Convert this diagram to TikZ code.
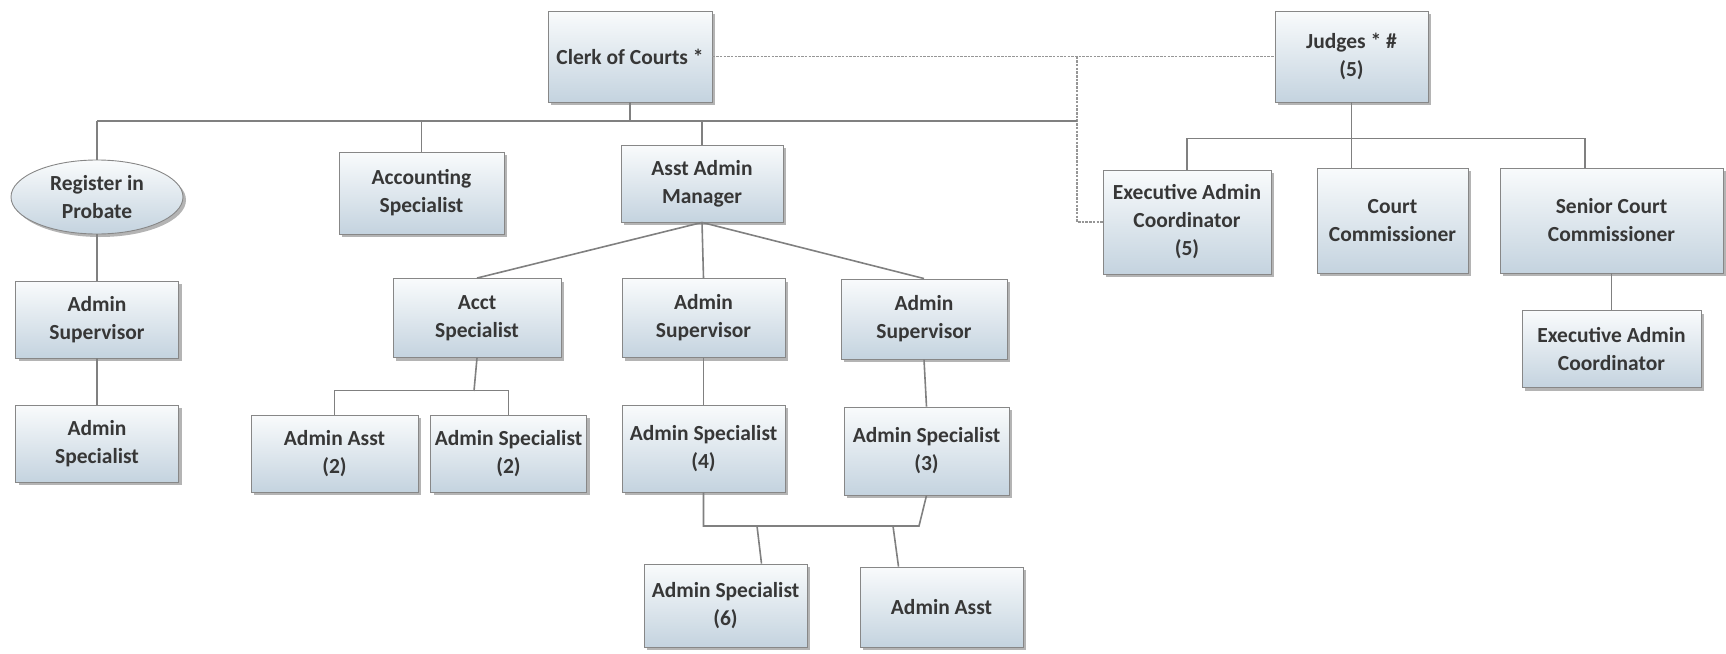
\documentclass[tikz,border=0pt]{standalone}
\usepackage{fontspec}
\setmainfont{Carlito}
\usetikzlibrary{shapes.geometric,shadows,calc}
\definecolor{boxtop}{RGB}{249,251,252}
\definecolor{boxbot}{RGB}{196,211,223}
\definecolor{boxline}{RGB}{135,135,135}
\definecolor{linkc}{RGB}{128,128,128}
\definecolor{dashc}{RGB}{150,150,150}
\definecolor{txt}{RGB}{55,55,55}
\tikzset{
  unit/.style={draw=boxline, line width=0.9pt, top color=boxtop, bottom color=boxbot,
    align=center, text=txt, inner sep=2pt,
    font=\fontsize{21.5}{28}\selectfont\bfseries,
    drop shadow={shadow xshift=3pt, shadow yshift=-3pt, opacity=0.45, fill=black!65}},
  box/.style={unit, rectangle},
  oval/.style={unit, ellipse},
  link/.style={draw=linkc, line width=1.6pt},
  dashlink/.style={draw=dashc, line width=1.1pt, dash pattern=on 2.5pt off 1.2pt}
}
\begin{document}
\begin{tikzpicture}[x=1pt,y=-1pt]
\useasboundingbox (0,0) rectangle (1726,653);

% bus coordinates
\coordinate (busL) at (97,121);
\coordinate (busR) at (1077,121);

% top row and the dotted reporting lines (drawn first, under the boxes)
\node[box, minimum width=164pt, minimum height=91pt] (clerk) at (630,56.5) {Clerk of Courts *};
\node[box, minimum width=153pt, minimum height=91pt] (judges) at (1351.5,56.5) {Judges * \#\\(5)};
\node[box, minimum width=168pt, minimum height=104pt] (execA) at (1187,222) {Executive Admin\\Coordinator\\(5)};

\draw[dashlink] (clerk.east) -- (judges.west);
\draw[dashlink] (busR |- clerk.east) |- (execA.west);

% clerk branch
\draw[link] (busL) -- (busR);
\draw[link] (clerk.south) -- (clerk.south |- busL);

\node[oval, minimum width=172pt, minimum height=74pt] (reg) at (97,197) {Register in\\Probate};
\node[box, minimum width=165pt, minimum height=82pt] (acctspec) at (421.5,193) {Accounting\\Specialist};
\node[box, minimum width=162pt, minimum height=77pt] (asst) at (702,183.5) {Asst Admin\\Manager};

\draw[link] (busL) -- (reg.north);
\draw[link] (acctspec.north) -- (acctspec.north |- busL);
\draw[link] (asst.north) -- (asst.north |- busL);

% probate column
\node[box, minimum width=163pt, minimum height=77pt] (supL) at (97,319.5) {Admin\\Supervisor};
\node[box, minimum width=163pt, minimum height=77pt] (specL) at (97,443.5) {Admin\\Specialist};
\draw[link] (reg.south) -- (supL.north);
\draw[link] (supL.south) -- (specL.north);

% assistant admin manager branch
\node[box, minimum width=168pt, minimum height=79pt] (acct) at (477,318) {Acct\\Specialist};
\node[box, minimum width=163pt, minimum height=79pt] (supM) at (703.5,318) {Admin\\Supervisor};
\node[box, minimum width=166pt, minimum height=80pt] (supR) at (924,319) {Admin\\Supervisor};
\draw[link] (asst.south) -- (acct.north);
\draw[link] (asst.south) -- (supM.north);
\draw[link] (asst.south) -- (supR.north);

\node[box, minimum width=167pt, minimum height=77pt] (asst2) at (334.5,453.5) {Admin Asst\\(2)};
\node[box, minimum width=156pt, minimum height=77pt] (spec2) at (508.5,453.5) {Admin Specialist\\(2)};
\draw[link] (acct.south) -- ($(acct.south)+(-3,33)$);
\draw[link] (asst2.north) -- ++(0,-24) -| (spec2.north);

\node[box, minimum width=163pt, minimum height=87pt] (spec4) at (703.5,448.5) {Admin Specialist\\(4)};
\node[box, minimum width=165pt, minimum height=88pt] (spec3) at (926.5,451) {Admin Specialist\\(3)};
\draw[link] (supM.south) -- (spec4.north);
\draw[link] (supR.south) -- (spec3.north);

\node[box, minimum width=163pt, minimum height=83pt] (spec6) at (725.5,605.5) {Admin Specialist\\(6)};
\node[box, minimum width=163pt, minimum height=80pt] (asstB) at (941.5,607) {Admin Asst};
\coordinate (b3L) at (703.5,526);
\coordinate (b3R) at (919,526);
\draw[link] (spec4.south) -- (b3L) -- (b3R) -- (spec3.south);
\draw[link] (b3L -| 757,0) -- ($(spec6.north)+(36,0)$);
\draw[link] (b3L -| 893,0) -- ($(asstB.north)+(-43,0)$);

% judges branch
\node[box, minimum width=151pt, minimum height=105pt] (court) at (1392.5,220.5) {Court\\Commissioner};
\node[box, minimum width=223pt, minimum height=105pt] (senior) at (1611.5,220.5) {Senior Court\\Commissioner};
\node[box, minimum width=179pt, minimum height=77pt] (execB) at (1611.5,349) {Executive Admin\\Coordinator};
\draw[link] (judges.south) -- (judges.south |- court.north);
\draw[link] (execA.north) -- ++(0,-31) -| ($(senior.north)+(-26.5,0)$);
\draw[link] (senior.south) -- (execB.north);
\end{tikzpicture}
\end{document}
